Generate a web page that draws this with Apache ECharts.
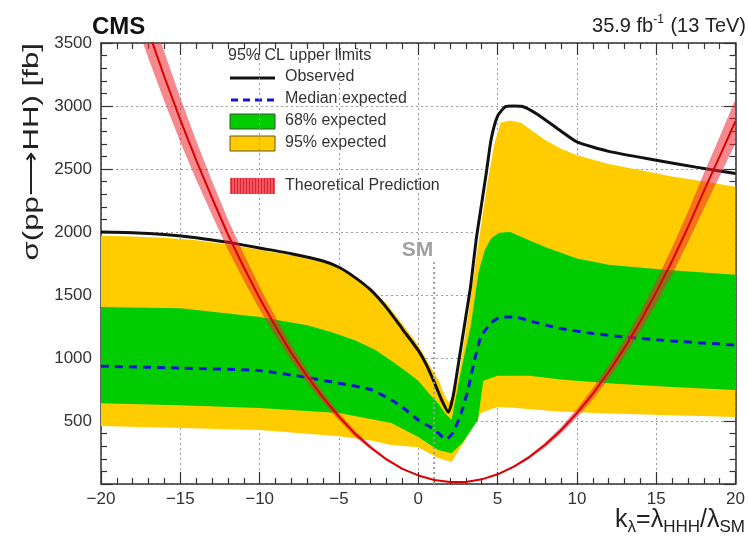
<!DOCTYPE html>
<html><head><meta charset="utf-8">
<script src="https://cdn.jsdelivr.net/npm/echarts@6/dist/echarts.min.js"></script>
<style>html,body{margin:0;padding:0;background:#fff}#c{width:748px;height:540px}</style>
</head><body><div id="c"></div>
<script>
// ---- data ----
const thX  = [-20,-19,-18,-17,-16,-15,-14,-13,-12,-11,-10,-9,-8,-7,-6,-5,-4,-3,-2,-1,0,1,2,3,4,5,6,7,8,9,10,11,12,13,14,15,16,17,18,19,20];
const thY  = [4780,4360,3970,3590,3230,2890,2570,2270,1980,1720,1475,1250,1040,855,685,535,400,290,195,120,68,32,15,16,37,77,136,214,311,427,562,716,889,1080,1291,1521,1770,2038,2325,2600,2880];
const thHi = [5070,4620,4210,3805,3425,3065,2725,2405,2100,1825,1565,1325,1100,905,725,565,425,305,205,127,72,34,16,17,39,82,144,227,330,453,596,759,942,1145,1368,1612,1876,2160,2465,2755,3055];
const thLo = [4495,4100,3730,3375,3035,2715,2415,2135,1860,1615,1385,1175,980,805,645,505,375,275,185,113,64,30,14,15,35,72,128,201,292,401,528,673,836,1015,1214,1430,1664,1916,2185,2445,2705];

const obsX = [-20,-18,-16,-14,-12,-10,-8,-6,-5,-4,-3,-2,-1,0,0.5,1,1.5,1.9,2.2,2.6,3.0,3.3,3.65,4.0,4.3,4.6,5.0,5.5,6.0,6.5,7.5,9,10,12,15,17.5,20];
const obsY = [2000,1995,1980,1955,1918,1873,1828,1770,1720,1640,1540,1400,1230,1060,950,810,660,570,700,1010,1330,1570,1940,2230,2480,2740,2920,2995,3000,2998,2935,2800,2715,2640,2570,2515,2465];

const medX = [-20,-15,-10,-7,-5,-3,-1.7,-1,0,1.05,1.75,2.2,2.7,3.13,3.55,3.95,4.6,5.2,6.1,7,8.8,11,13,16,20];
const medY = [935,920,900,845,800,750,667,610,508,430,355,410,560,746,984,1167,1278,1325,1325,1295,1238,1195,1167,1135,1103];

const y95HiX = [-20,-18,-16,-14,-12,-10,-8,-6,-5,-4,-3,-2,-1,0,0.5,1,1.3,1.6,1.9,2.2,2.5,2.8,3.2,3.6,4.0,4.4,4.8,5.2,5.8,6.5,7,8,9,10,12,14,16,18,20];
const y95Hi  = [1970,1965,1955,1935,1900,1860,1815,1760,1715,1645,1555,1430,1270,1100,990,880,820,720,650,690,830,1060,1390,1750,2090,2420,2700,2870,2885,2865,2820,2730,2660,2610,2540,2490,2440,2400,2360];
const y95LoX = [-20,-15,-10,-5,-3,-1.7,0,1.25,2.1,3.0,3.95,5,6,8.8,12,16,20];
const y95Lo  = [460,445,428,378,345,310,292,206,175,360,563,611,605,575,560,545,532];

const g68HiX = [-20,-15,-10,-7,-5.45,-4,-2.7,-1.5,-0.63,0,0.8,1.25,1.7,2.1,2.7,3.3,3.8,4.2,4.6,5.1,5.8,6.5,8,10,12,15.5,20];
const g68Hi  = [1405,1395,1325,1260,1205,1140,1063,960,880,820,700,640,560,510,900,1250,1680,1860,1950,1995,2000,1960,1880,1790,1740,1700,1660];
const g68LoX = [-20,-15,-10,-5,-1.7,0,1.25,2.1,2.8,3.76,4.1,5,7,9,12,16,20];
const g68Lo  = [640,625,603,563,484,373,270,245,330,508,820,860,860,830,800,770,746];

const smX = 1, smTop = 1760;
const xTickLabels = ['\u221220','\u221215','\u221210','\u22125','0','5','10','15','20'];
const yTickLabels = ['','500','1000','1500','2000','2500','3000','3500'];

// ---- chart ----
const FONT = 'Liberation Sans, Arial, Helvetica, sans-serif';
const zip = (xs, ys) => xs.map((x, i) => [x, ys[i]]);

function band(name, xsHi, hi, xsLo, lo, fill, z) {
  return {
    type: 'custom', name: name, z: z, silent: true, clip: true,
    data: [[0, 0]],
    renderItem: function (params, api) {
      const pts = [];
      for (let i = 0; i < xsHi.length; i++) pts.push(api.coord([xsHi[i], hi[i]]));
      for (let i = xsLo.length - 1; i >= 0; i--) pts.push(api.coord([xsLo[i], lo[i]]));
      const cs = params.coordSys;
      return {
        type: 'polygon', shape: { points: pts }, style: { fill: fill },
        clipPath: { type: 'rect', shape: { x: cs.x, y: cs.y, width: cs.width, height: cs.height } }
      };
    }
  };
}

const frame = { show: true, onZero: false, lineStyle: { color: '#333', width: 1.5 } };
const tick = { show: true, inside: true, length: 12, lineStyle: { color: '#333', width: 1.2 } };
const minor = { show: true, splitNumber: 5, length: 6, lineStyle: { color: '#333', width: 1.2 } };
const grid = { show: true, lineStyle: { color: '#9a9a9a', type: [2, 3], width: 1 } };

// hatch for legend swatch of theory band
const hatch = [];
for (let i = 0; i < 15; i++) {
  hatch.push({ type: 'line', shape: { x1: 231.5 + i * 3, y1: 178, x2: 231.5 + i * 3, y2: 194 }, style: { stroke: 'rgba(200,0,20,0.55)', lineWidth: 1 } });
}

const chart = echarts.init(document.getElementById('c'));
chart.setOption({
  backgroundColor: '#ffffff',
  animation: false,
  grid: { left: 101, right: 9, top: 43, bottom: 56 },
  xAxis: [
    { type: 'value', min: -20, max: 20, interval: 5, axisLine: frame, axisTick: tick, minorTick: minor, splitLine: grid,
      axisLabel: { margin: 7, fontSize: 17, color: '#333', fontFamily: FONT,
        formatter: v => xTickLabels[Math.round((v + 20) / 5)] } },
    { type: 'value', position: 'top', min: -20, max: 20, interval: 5, axisLine: frame, axisTick: tick, minorTick: minor,
      splitLine: { show: false }, axisLabel: { show: false } }
  ],
  yAxis: [
    { type: 'value', min: 0, max: 3500, interval: 500, axisLine: frame, axisTick: tick, minorTick: minor, splitLine: grid,
      axisLabel: { margin: 9, fontSize: 17, color: '#333', fontFamily: FONT,
        formatter: v => yTickLabels[Math.round(v / 500)] } },
    { type: 'value', position: 'right', min: 0, max: 3500, interval: 500, axisLine: frame, axisTick: tick, minorTick: minor,
      splitLine: { show: false }, axisLabel: { show: false } }
  ],
  series: [
    band('95% expected', y95HiX, y95Hi, y95LoX, y95Lo, '#ffcc00', 2),
    band('68% expected', g68HiX, g68Hi, g68LoX, g68Lo, '#00cc00', 3),
    { type: 'line', name: 'Median expected', z: 4, data: zip(medX, medY), showSymbol: false, symbol: 'none', smooth: 0.2,
      lineStyle: { color: '#1414d8', width: 3, type: [8, 6] } },
    { type: 'line', name: 'Observed', z: 5, data: zip(obsX, obsY), showSymbol: false, symbol: 'none', smooth: 0.2,
      lineStyle: { color: '#111', width: 3 } },
    band('Theory band', thX, thHi, thX, thLo, 'rgba(238,40,50,0.55)', 6),
    { type: 'line', name: 'Theoretical Prediction', z: 7, data: zip(thX, thY), showSymbol: false, symbol: 'none',
      lineStyle: { color: '#dd0000', width: 2 } },
    { type: 'line', name: 'SM', z: 8, data: [[smX, 0], [smX, smTop]], symbol: 'none', showSymbol: false,
      lineStyle: { color: '#999', width: 2, type: [2, 3] },
      endLabel: { show: true, formatter: 'SM', color: '#a0a0a0', fontSize: 21, fontWeight: 'bold', fontFamily: FONT,
        align: 'right', verticalAlign: 'middle', offset: [-9, -12] } }
  ],
  graphic: [
    { type: 'text', x: 92, y: 27, style: { text: 'CMS', fontSize: 24, fontWeight: 'bold', fontFamily: FONT, fill: '#111', verticalAlign: 'middle' } },
    { type: 'text', x: 746, y: 26, style: { text: '35.9 fb{sup|-1} (13 TeV)', fontSize: 20, fontFamily: FONT, fill: '#222', align: 'right', verticalAlign: 'middle',
      rich: { sup: { fontSize: 12, fontFamily: FONT, fill: '#222', verticalAlign: 'top', lineHeight: 24, padding: [0, 1, 10, 0] } } } },
    { type: 'text', x: 32, y: 43, rotation: Math.PI / 2, scaleX: 1.42, style: { text: 'σ(pp\u27F6HH) [fb]', fontSize: 22, fontFamily: FONT, fill: '#222', align: 'right', verticalAlign: 'middle' } },
    { type: 'text', x: 745, y: 520, style: { text: 'k{s|λ}=λ{s|HHH}/λ{s|SM}', fontSize: 25, fontFamily: FONT, fill: '#222', align: 'right', verticalAlign: 'middle', lineHeight: 32,
      rich: { s: { fontSize: 17, fontFamily: FONT, fill: '#222', verticalAlign: 'bottom', lineHeight: 17 } } } },
    // legend
    { type: 'text', x: 228, y: 56, style: { text: '95% CL upper limits', fontSize: 16, fontFamily: FONT, fill: '#333', verticalAlign: 'middle' } },
    { type: 'line', shape: { x1: 230, y1: 78, x2: 275, y2: 78 }, style: { stroke: '#111', lineWidth: 3 } },
    { type: 'text', x: 285, y: 77, style: { text: 'Observed', fontSize: 16, fontFamily: FONT, fill: '#333', verticalAlign: 'middle' } },
    { type: 'line', shape: { x1: 231, y1: 100, x2: 276, y2: 100 }, style: { stroke: '#1414d8', lineWidth: 3, lineDash: [7, 5] } },
    { type: 'text', x: 285, y: 99, style: { text: 'Median expected', fontSize: 16, fontFamily: FONT, fill: '#333', verticalAlign: 'middle' } },
    { type: 'rect', shape: { x: 230, y: 114, width: 45, height: 15 }, style: { fill: '#00cc00', stroke: '#335533', lineWidth: 1 } },
    { type: 'text', x: 285, y: 121, style: { text: '68% expected', fontSize: 16, fontFamily: FONT, fill: '#333', verticalAlign: 'middle' } },
    { type: 'rect', shape: { x: 230, y: 136, width: 45, height: 15 }, style: { fill: '#ffcc00', stroke: '#665522', lineWidth: 1 } },
    { type: 'text', x: 285, y: 143, style: { text: '95% expected', fontSize: 16, fontFamily: FONT, fill: '#333', verticalAlign: 'middle' } },
    { type: 'rect', shape: { x: 230, y: 178, width: 45, height: 16 }, style: { fill: '#f2545e' } }
  ].concat(hatch).concat([
    { type: 'text', x: 285, y: 186, style: { text: 'Theoretical Prediction', fontSize: 16, fontFamily: FONT, fill: '#333', verticalAlign: 'middle' } }
  ])
});
</script></body></html>
